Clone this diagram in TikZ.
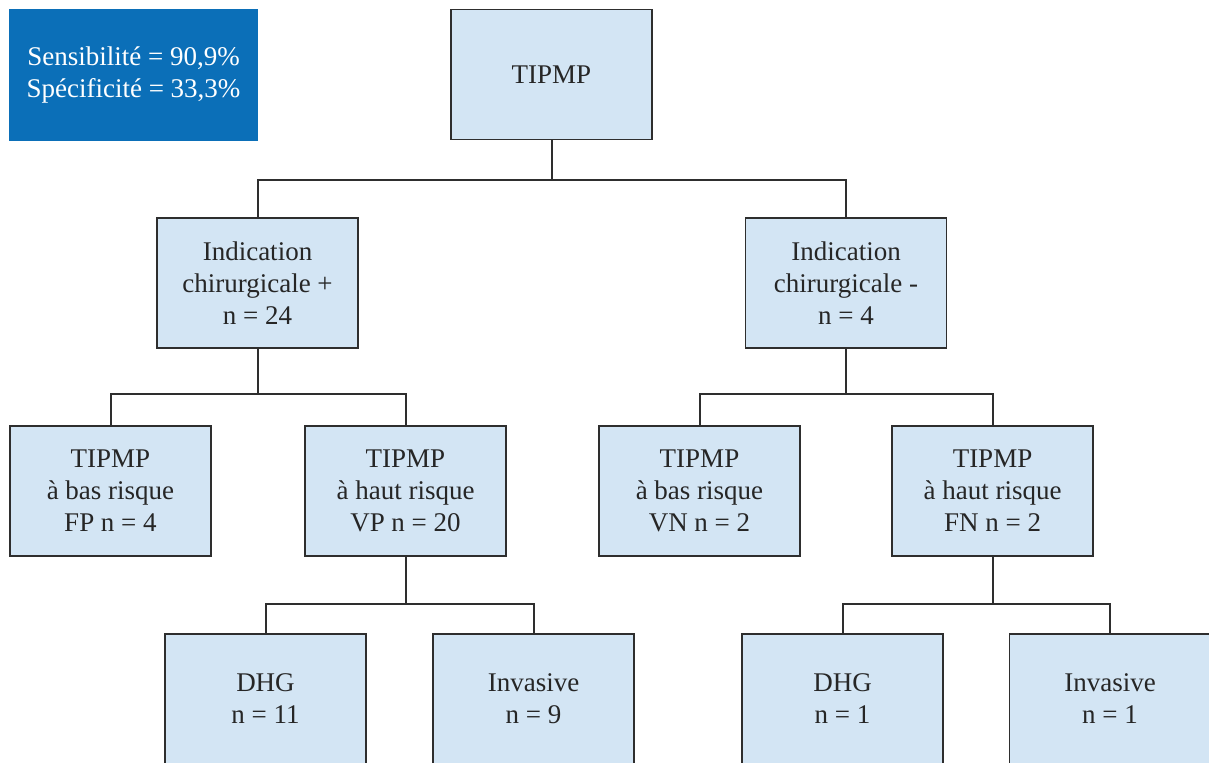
\documentclass[tikz,border=0pt]{standalone}
\usepackage{fontspec}
\setmainfont{Liberation Serif}
\definecolor{boxblue}{HTML}{D3E5F4}
\definecolor{darkblue}{HTML}{0B6FB8}
\definecolor{linegray}{HTML}{2E2E2E}
\begin{document}
\begin{tikzpicture}[x=0.5pt,y=-0.5pt, line join=miter,
		font=\fontsize{13.5}{16}\selectfont,
		casebox/.style={draw=linegray, line width=0.7pt, fill=boxblue, text=black!85, align=center,
			minimum width=100.5pt, minimum height=65pt, inner sep=0pt},
		resbox/.style={fill=darkblue, text=white, align=center, minimum width=124.5pt, minimum height=66pt, inner sep=0pt},
		link/.style={draw=linegray, line width=1pt}]
	\clip (0,0) rectangle (1209,763);
	% resultats
	\node[resbox] (res) at (133.5,75) {Sensibilit\'e = 90,9\%\\Sp\'ecificit\'e = 33,3\%};
	% racine
	\node[casebox] (tipmp) at (551.5,74.5) {TIPMP};
	% niveau 1
	\node[casebox] (indp) at (257.5,283) {Indication\\chirurgicale +\\n = 24};
	\node[casebox] (indn) at (846,283) {Indication\\chirurgicale -\\n = 4};
	% niveau 2
	\node[casebox] (fp) at (110.5,491) {TIPMP\\\`a bas risque\\FP n = 4};
	\node[casebox] (vp) at (405.5,491) {TIPMP\\\`a haut risque\\VP n = 20};
	\node[casebox] (vn) at (699.5,491) {TIPMP\\\`a bas risque\\VN n = 2};
	\node[casebox] (fn) at (992.5,491) {TIPMP\\\`a haut risque\\FN n = 2};
	% niveau 3
	\node[casebox] (dhgp) at (265.5,699) {DHG\\n = 11};
	\node[casebox] (invp) at (533.5,699) {Invasive\\n = 9};
	\node[casebox] (dhgn) at (842.5,699) {DHG\\n = 1};
	\node[casebox] (invn) at (1110,699) {Invasive\\n = 1};
	% liens
	\draw[link] (tipmp.south) -- ++(0,40) -| (indp.north);
	\draw[link] (tipmp.south) ++(0,40) -| (indn.north);
	\draw[link] (indp.south) -- ++(0,45) -| (fp.north);
	\draw[link] (indp.south) ++(0,45) -| (vp.north);
	\draw[link] (indn.south) -- ++(0,45) -| (vn.north);
	\draw[link] (indn.south) ++(0,45) -| (fn.north);
	\draw[link] (vp.south) -- ++(0,47) -| (dhgp.north);
	\draw[link] (vp.south) ++(0,47) -| (invp.north);
	\draw[link] (fn.south) -- ++(0,47) -| (dhgn.north);
	\draw[link] (fn.south) ++(0,47) -| (invn.north);
\end{tikzpicture}
\end{document}
